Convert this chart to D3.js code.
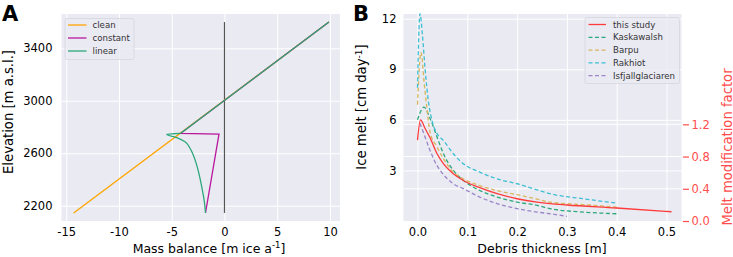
<!DOCTYPE html>
<html>
<head>
<meta charset="utf-8">
<script src="https://cdn.jsdelivr.net/npm/d3@7"></script>
<style>
  body { margin: 0; background: #fff; }
  svg { display: block; font-family: "DejaVu Sans", sans-serif; }
</style>
</head>
<body>
<svg id="chart" width="733" height="257"></svg>
<script>
// ---- panel A data (mass balance vs elevation) ----
const cleanMB = [-14.3, 9.9]
const cleanElev = [2145, 3600]
const constantMB = [9.9, -4.15, -0.52, -1.8]
const constantElev = [3600, 2752, 2745, 2145]
const linearMB = [9.9, -4.15, -5.48, -4.53, -3.74, -3.27, -2.96, -2.64, -2.32, -2.07, -1.91, -1.8]
const linearElev = [3600, 2752, 2745, 2719, 2688, 2638, 2587, 2511, 2409, 2307, 2231, 2145]
const zeroMB = [0, 0]
const zeroElev = [2145, 3600]
const aXTicks = [-15, -10, -5, 0, 5, 10]
const aYTicks = [2200, 2600, 3000, 3400]

// ---- panel B data (ice melt vs debris thickness) ----
const studyD = [0, 0.006, 0.015, 0.025, 0.039, 0.052, 0.072, 0.092, 0.125, 0.16, 0.2, 0.24, 0.266, 0.3, 0.4, 0.51]
const studyMelt = [4.8, 6.0, 5.5, 4.95, 4.0, 3.4, 2.8, 2.4, 1.98, 1.62, 1.32, 1.12, 1.03, 0.95, 0.77, 0.55]
const kaskD = [0, 0.013, 0.025, 0.039, 0.052, 0.072, 0.092, 0.125, 0.16, 0.2, 0.24, 0.266, 0.333, 0.4]
const kaskMelt = [6.0, 6.75, 6.1, 5.0, 4.0, 3.0, 2.41, 1.81, 1.42, 1.12, 0.93, 0.73, 0.53, 0.43]
const barpuD = [0, 0.007, 0.0137, 0.0185, 0.025, 0.039, 0.052, 0.072, 0.092, 0.125, 0.16, 0.2, 0.24, 0.266, 0.333, 0.4]
const barpuMelt = [6.9, 10.0, 8.1, 6.8, 5.3, 4.4, 3.7, 2.9, 2.5, 2.1, 1.8, 1.56, 1.3, 1.12, 0.97, 0.82]
const rakhD = [0, 0.005, 0.0097, 0.015, 0.0217, 0.0297, 0.039, 0.052, 0.072, 0.092, 0.125, 0.16, 0.2, 0.24, 0.266, 0.333, 0.4]
const rakhMelt = [7.9, 12.3, 11.1, 9.1, 7.15, 5.9, 5.2, 4.78, 3.99, 3.4, 2.9, 2.5, 2.21, 1.85, 1.62, 1.32, 1.06]
const isfD = [0.005, 0.015, 0.025, 0.039, 0.052, 0.072, 0.092, 0.125, 0.16, 0.2, 0.24, 0.266, 0.3]
const isfMelt = [5.8, 5.0, 4.2, 3.3, 2.76, 2.21, 1.92, 1.42, 1.03, 0.73, 0.53, 0.43, 0.28]
const bXTicks = [0, 0.1, 0.2, 0.3, 0.4, 0.5]
const bYTicks = [3, 6, 9, 12]
const bRTicks = [0, 0.4, 0.8, 1.2]

const bg = '#eaeaf2'
const tickFont = 11.5
const labelFont = 12.5
const svg = d3.select('#chart')

function zip(xs, ys) { return xs.map((x, i) => [x, ys[i]]) }

// ================= panel A =================
const ax = { l: 61.5, r: 340, t: 14, b: 221 }
const xA = d3.scaleLinear().domain([-15.45, 10.95]).range([ax.l, ax.r])
const yA = d3.scaleLinear().domain([2083.4, 3661.5]).range([ax.b, ax.t])

const gA = svg.append('g')
gA.append('rect').attr('x', ax.l).attr('y', ax.t).attr('width', ax.r - ax.l).attr('height', ax.b - ax.t).attr('fill', bg)

gA.append('g').attr('transform', `translate(0,${ax.b})`)
    .call(d3.axisBottom(xA).tickValues(aXTicks).tickSize(-(ax.b - ax.t)).tickFormat(d => d))
    .call(g => g.select('.domain').remove())
    .call(g => g.selectAll('.tick line').attr('stroke', '#fff').attr('stroke-width', 1))
    .call(g => g.selectAll('.tick text').attr('y', 6.5).attr('font-size', tickFont).attr('fill', '#000').attr('font-family', 'DejaVu Sans'))

gA.append('g').attr('transform', `translate(${ax.l},0)`)
    .call(d3.axisLeft(yA).tickValues(aYTicks).tickSize(-(ax.r - ax.l)).tickFormat(d => d))
    .call(g => g.select('.domain').remove())
    .call(g => g.selectAll('.tick line').attr('stroke', '#fff').attr('stroke-width', 1))
    .call(g => g.selectAll('.tick text').attr('x', -9).attr('font-size', tickFont).attr('fill', '#000').attr('font-family', 'DejaVu Sans'))

const lineA = d3.line().x(d => xA(d[0])).y(d => yA(d[1]))
const lineAc = d3.line().x(d => xA(d[0])).y(d => yA(d[1])).curve(d3.curveMonotoneY)

gA.append('path').datum(zip(zeroMB, zeroElev)).attr('d', lineA).attr('fill', 'none').attr('stroke', '#555').attr('stroke-width', 1.2)
gA.append('path').datum(zip(cleanMB, cleanElev)).attr('d', lineA).attr('fill', 'none').attr('stroke', '#ffa500').attr('stroke-width', 1.3)
gA.append('path').datum(zip(constantMB, constantElev)).attr('d', lineA).attr('fill', 'none').attr('stroke', '#b8179c').attr('stroke-width', 1.3)
// linear: straight part above the debris, curved part below it
const linearPts = zip(linearMB, linearElev)
gA.append('path').datum(linearPts.slice(0, 2)).attr('d', lineA).attr('fill', 'none').attr('stroke', '#2ca87a').attr('stroke-width', 1.3)
gA.append('path').datum(linearPts.slice(1)).attr('d', lineAc).attr('fill', 'none').attr('stroke', '#2ca87a').attr('stroke-width', 1.3)

// legend A
const legA = gA.append('g').attr('transform', 'translate(65,18.5)')
legA.append('rect').attr('width', 69).attr('height', 41).attr('rx', 2).attr('fill', bg).attr('fill-opacity', 0.8).attr('stroke', '#d6d6de').attr('stroke-width', 0.8)
const aLegend = [['clean', '#ffa500'], ['constant', '#b8179c'], ['linear', '#2ca87a']]
aLegend.forEach((d, i) => {
    const y = 6.5 + i * 13
    legA.append('line').attr('x1', 3).attr('x2', 21.5).attr('y1', y).attr('y2', y).attr('stroke', d[1]).attr('stroke-width', 1.3)
    legA.append('text').attr('x', 27.5).attr('y', y + 3).attr('font-size', 8.6).attr('fill', '#333').text(d[0])
})

// axis labels A
gA.append('text').attr('x', 209).attr('y', 252.5).attr('text-anchor', 'middle').attr('font-size', labelFont)
    .call(t => {
        t.append('tspan').text('Mass balance [m ice a')
        t.append('tspan').attr('dy', -4.5).attr('font-size', 8.5).text('-1')
        t.append('tspan').attr('dy', 4.5).text(']')
    })
gA.append('text').attr('transform', 'translate(12.5,112) rotate(-90)').attr('text-anchor', 'middle').attr('font-size', 13.2)
    .text('Elevation [m a.s.l.]')
svg.append('text').attr('x', 2).attr('y', 21).attr('font-size', 21).attr('font-weight', 'bold').text('A')

// ================= panel B =================
const bx = { l: 403.5, r: 681.5, t: 14, b: 221 }
const xB = d3.scaleLinear().domain([-0.0281, 0.5301]).range([bx.l, bx.r])
const yB = d3.scaleLinear().domain([0, 12.28]).range([bx.b, bx.t])
const yR = d3.scaleLinear().domain([0, 2.57]).range([bx.b, bx.t])
const redAxis = '#ff4d4d'

const gB = svg.append('g')
gB.append('rect').attr('x', bx.l).attr('y', bx.t).attr('width', bx.r - bx.l).attr('height', bx.b - bx.t).attr('fill', bg)

gB.append('g').attr('transform', `translate(0,${bx.b})`)
    .call(d3.axisBottom(xB).tickValues(bXTicks).tickSize(-(bx.b - bx.t)).tickFormat(d3.format('.1f')))
    .call(g => g.select('.domain').remove())
    .call(g => g.selectAll('.tick line').attr('stroke', '#fff').attr('stroke-width', 1))
    .call(g => g.selectAll('.tick text').attr('y', 6.5).attr('font-size', tickFont).attr('fill', '#000').attr('font-family', 'DejaVu Sans'))

gB.append('g').attr('transform', `translate(${bx.l},0)`)
    .call(d3.axisLeft(yB).tickValues(bYTicks).tickSize(-(bx.r - bx.l)).tickFormat(d => d))
    .call(g => g.select('.domain').remove())
    .call(g => g.selectAll('.tick line').attr('stroke', '#fff').attr('stroke-width', 1))
    .call(g => g.selectAll('.tick text').attr('x', -7).attr('font-size', tickFont).attr('fill', '#000').attr('font-family', 'DejaVu Sans'))

// right axis grid + ticks
gB.append('g').selectAll('line.rgrid').data(bRTicks.filter(d => d > 0)).enter().append('line')
    .attr('class', 'rgrid').attr('x1', bx.l).attr('x2', bx.r).attr('y1', d => yR(d)).attr('y2', d => yR(d))
    .attr('stroke', '#fff').attr('stroke-width', 1)
gB.append('g').attr('transform', `translate(${bx.r},0)`)
    .call(d3.axisRight(yR).tickValues(bRTicks).tickSize(6).tickPadding(4).tickFormat(d3.format('.1f')))
    .call(g => g.select('.domain').remove())
    .call(g => g.selectAll('.tick line').attr('stroke', redAxis).attr('stroke-width', 1.2).attr('transform', 'translate(1.5,0)'))
    .call(g => g.selectAll('.tick text').attr('font-size', tickFont).attr('fill', redAxis).attr('font-family', 'DejaVu Sans'))

const lineB = d3.line().x(d => xB(d[0])).y(d => yB(d[1])).curve(d3.curveMonotoneX)
const bSeries = [
    { name: 'this study', d: studyD, v: studyMelt, color: '#ff3b3b', dash: null },
    { name: 'Kaskawalsh', d: kaskD, v: kaskMelt, color: '#2ca87a', dash: '4,2.5' },
    { name: 'Barpu', d: barpuD, v: barpuMelt, color: '#d8b65c', dash: '4,2.5' },
    { name: 'Rakhiot', d: rakhD, v: rakhMelt, color: '#3cbfd2', dash: '4,2.5' },
    { name: 'Isfjallglaciaren', d: isfD, v: isfMelt, color: '#9a86c8', dash: '4,2.5' }
]
// dashed first, red on top
bSeries.slice(1).concat(bSeries.slice(0, 1)).forEach(s => {
    gB.append('path').datum(zip(s.d, s.v)).attr('d', lineB).attr('fill', 'none')
        .attr('stroke', s.color).attr('stroke-width', 1.3).attr('stroke-dasharray', s.dash)
})

// legend B
const legB = gB.append('g').attr('transform', 'translate(585,17.5)')
legB.append('rect').attr('width', 94.5).attr('height', 66).attr('rx', 2).attr('fill', bg).attr('fill-opacity', 0.8).attr('stroke', '#d6d6de').attr('stroke-width', 0.8)
bSeries.forEach((s, i) => {
    const y = 7 + i * 12.8
    legB.append('line').attr('x1', 3.5).attr('x2', 21).attr('y1', y).attr('y2', y)
        .attr('stroke', s.color).attr('stroke-width', 1.3).attr('stroke-dasharray', s.dash)
    legB.append('text').attr('x', 28).attr('y', y + 3).attr('font-size', 8.6).attr('fill', '#333').text(s.name)
})

// axis labels B
gB.append('text').attr('x', 542).attr('y', 252.5).attr('text-anchor', 'middle').attr('font-size', labelFont).text('Debris thickness [m]')
gB.append('text').attr('transform', 'translate(366,107) rotate(-90)').attr('text-anchor', 'middle').attr('font-size', 13.2)
    .call(t => {
        t.append('tspan').text('Ice melt [cm day')
        t.append('tspan').attr('dy', -4.5).attr('font-size', 9).text('-1')
        t.append('tspan').attr('dy', 4.5).text(']')
    })
gB.append('text').attr('transform', 'translate(731.5,147) rotate(-90)').attr('text-anchor', 'middle').attr('font-size', 13.2)
    .attr('fill', redAxis).text('Melt modification factor')
svg.append('text').attr('x', 353).attr('y', 21).attr('font-size', 21).attr('font-weight', 'bold').text('B')
</script>
</body>
</html>
